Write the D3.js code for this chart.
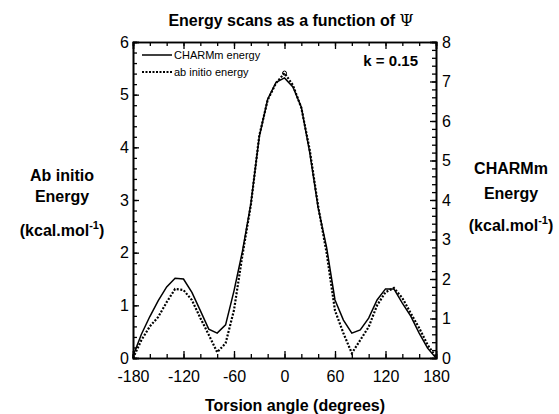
<!DOCTYPE html>
<html>
<head>
<meta charset="utf-8">
<script src="https://cdn.jsdelivr.net/npm/d3@7"></script>
<style>
  body { margin: 0; background: #fff; }
  svg { display: block; font-family: 'Liberation Sans', Arial, sans-serif; }
</style>
</head>
<body>
<svg></svg>
<script>
// torsion angle (degrees), every 10
const angles = d3.range(-180, 181, 10)

// CHARMm energy, right axis (kcal/mol)
const charmm = [0.05, 0.6, 1.05, 1.45, 1.8, 2.02, 2.0, 1.66, 1.2, 0.73,
  0.63, 0.84, 1.7, 2.7, 3.9, 5.6, 6.55, 6.98, 7.09, 6.86,
  6.35, 5.2, 3.8, 2.8, 1.47, 0.96, 0.63, 0.71, 1.01, 1.47,
  1.75, 1.75, 1.39, 1.06, 0.63, 0.25, 0.0]

// ab initio energy, left axis (kcal/mol)
const abInitio = [0.0, 0.34, 0.6, 0.78, 1.06, 1.31, 1.29, 1.1, 0.76, 0.44,
  0.11, 0.28, 0.91, 1.95, 2.9, 4.22, 4.9, 5.22, 5.41, 5.18,
  4.75, 3.95, 2.88, 2.0, 0.9, 0.47, 0.09, 0.34, 0.59, 1.0,
  1.25, 1.33, 1.14, 0.85, 0.57, 0.25, 0.02]

const xTicks = [-180, -120, -60, 0, 60, 120, 180]
const leftTicks = [0, 1, 2, 3, 4, 5, 6]
const rightTicks = [0, 1, 2, 3, 4, 5, 6, 7, 8]

const width = 559
const height = 414
const margin = ({ top: 42, right: 123, bottom: 56, left: 133 })

const svg = d3.select('svg')
  .attr('width', width)
  .attr('height', height)

const x = d3.scaleLinear()
  .domain([-180, 180])
  .range([margin.left, width - margin.right])

const yLeft = d3.scaleLinear()
  .domain([0, 6])
  .range([height - margin.bottom, margin.top])

const yRight = d3.scaleLinear()
  .domain([0, 8])
  .range([height - margin.bottom, margin.top])

function styleAxis (g) {
  g.select('.domain').attr('stroke', '#000').attr('stroke-width', 1.6)
  g.selectAll('.tick line').attr('stroke', '#000').attr('stroke-width', 1.3)
  g.selectAll('.tick text').attr('fill', '#000').attr('font-size', 16)
}

// minor ticks first, major on top
svg.append('g')
  .attr('transform', `translate(0,${height - margin.bottom})`)
  .call(d3.axisBottom(x).tickValues(d3.range(-180, 181, 20)).tickSize(-4).tickFormat(''))
  .call(styleAxis)
svg.append('g')
  .attr('transform', `translate(0,${height - margin.bottom})`)
  .call(d3.axisBottom(x).tickValues(xTicks).tickSize(-7).tickPadding(13).tickFormat(d3.format('d')))
  .call(styleAxis)
  .call(g => g.selectAll('.tick text').text(d => d < 0 ? '-' + Math.abs(d) : d))

svg.append('g')
  .attr('transform', `translate(0,${margin.top})`)
  .call(d3.axisTop(x).tickValues(d3.range(-180, 181, 20)).tickSize(-4).tickFormat(''))
  .call(styleAxis)
svg.append('g')
  .attr('transform', `translate(0,${margin.top})`)
  .call(d3.axisTop(x).tickValues(xTicks).tickSize(-7).tickFormat(''))
  .call(styleAxis)

svg.append('g')
  .attr('transform', `translate(${margin.left},0)`)
  .call(d3.axisLeft(yLeft).tickValues(d3.range(0, 6.01, 0.2)).tickSize(-4).tickFormat(''))
  .call(styleAxis)
svg.append('g')
  .attr('transform', `translate(${margin.left},0)`)
  .call(d3.axisLeft(yLeft).tickValues(leftTicks).tickSize(-6).tickPadding(4).tickFormat(d3.format('d')))
  .call(styleAxis)

svg.append('g')
  .attr('transform', `translate(${width - margin.right},0)`)
  .call(d3.axisRight(yRight).tickValues(d3.range(0, 8.01, 0.2)).tickSize(-4).tickFormat(''))
  .call(styleAxis)
svg.append('g')
  .attr('transform', `translate(${width - margin.right},0)`)
  .call(d3.axisRight(yRight).tickValues(rightTicks).tickSize(-6).tickPadding(6).tickFormat(d3.format('d')))
  .call(styleAxis)

// curves
const lineRight = d3.line().x((d, i) => x(angles[i])).y(d => yRight(d))
const lineLeft = d3.line().x((d, i) => x(angles[i])).y(d => yLeft(d))

svg.append('path')
  .datum(charmm)
  .attr('fill', 'none')
  .attr('stroke', '#000')
  .attr('stroke-width', 1.5)
  .attr('d', lineRight)

svg.append('path')
  .datum(abInitio)
  .attr('fill', 'none')
  .attr('stroke', '#000')
  .attr('stroke-width', 2.2)
  .attr('stroke-dasharray', '2,1.6')
  .attr('d', lineLeft)

// small marker at the ab initio peak
svg.append('circle')
  .attr('cx', x(0))
  .attr('cy', yLeft(d3.max(abInitio)))
  .attr('r', 2)
  .attr('fill', 'none')
  .attr('stroke', '#000')
  .attr('stroke-width', 1)

// legend
const legend = svg.append('g').attr('font-size', 11)
legend.append('line').attr('x1', 142).attr('x2', 172).attr('y1', 55).attr('y2', 55)
  .attr('stroke', '#000').attr('stroke-width', 1.5)
legend.append('text').attr('x', 174).attr('y', 55).attr('dy', '0.35em').text('CHARMm energy')
legend.append('line').attr('x1', 142).attr('x2', 172).attr('y1', 72).attr('y2', 72)
  .attr('stroke', '#000').attr('stroke-width', 1.8).attr('stroke-dasharray', '2,1.5')
legend.append('text').attr('x', 174).attr('y', 72).attr('dy', '0.35em').text('ab initio energy')

svg.append('text')
  .attr('x', 418).attr('y', 61).attr('dy', '0.35em')
  .attr('text-anchor', 'end')
  .attr('font-weight', 'bold').attr('font-size', 15)
  .text('k = 0.15')

// title
const title = svg.append('text')
  .attr('x', 291).attr('y', 20).attr('dy', '0.35em')
  .attr('text-anchor', 'middle')
  .attr('font-weight', 'bold').attr('font-size', 16)
title.append('tspan').text('Energy scans as a function of ')
title.append('tspan').attr('font-weight', 'normal').attr('font-family', 'DejaVu Serif').text('Ψ')

// axis titles
svg.append('text')
  .attr('x', 295).attr('y', 405).attr('dy', '0.35em')
  .attr('text-anchor', 'middle')
  .attr('font-weight', 'bold').attr('font-size', 16)
  .text('Torsion angle (degrees)')

function unitLabel (g, cx, lines, ys) {
  const t = g.append('g')
    .attr('font-weight', 'bold').attr('font-size', 16)
    .attr('text-anchor', 'middle')
  lines.forEach((s, i) => {
    t.append('text').attr('x', cx).attr('y', ys[i]).attr('dy', '0.35em').text(s)
  })
  const u = t.append('text').attr('x', cx).attr('y', ys[lines.length]).attr('dy', '0.35em')
  u.append('tspan').text('(kcal.mol')
  u.append('tspan').attr('font-size', 11).attr('dy', '-0.6em').text('-1')
  u.append('tspan').attr('dy', '0.45em').text(')')
}

unitLabel(svg, 62, ['Ab initio', 'Energy'], [175, 196, 230])
unitLabel(svg, 511, ['CHARMm', 'Energy'], [168, 193, 225])
</script>
</body>
</html>
